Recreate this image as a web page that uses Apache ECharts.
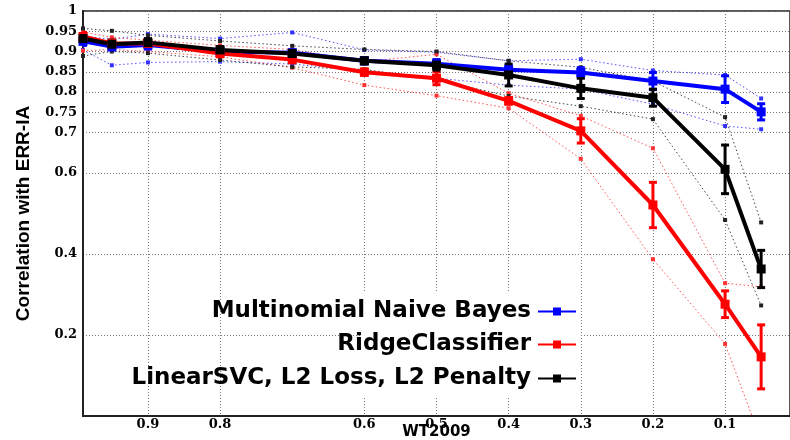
<!DOCTYPE html>
<html>
<head>
<meta charset="utf-8">
<script src="https://cdn.jsdelivr.net/npm/echarts@6/dist/echarts.min.js"></script>
<style>html,body{margin:0;padding:0;background:#fff}#c{width:790px;height:440px}</style>
</head>
<body>
<div id="c"></div>
<script>
// ---- data ----
const xValues = [0.99, 0.95, 0.9, 0.8, 0.7, 0.6, 0.5, 0.4, 0.3, 0.2, 0.1, 0.05];
const xTicks = [0.9, 0.8, 0.6, 0.5, 0.4, 0.3, 0.2, 0.1];
const yTicks = [0.2, 0.4, 0.6, 0.7, 0.75, 0.8, 0.85, 0.9, 0.95, 1];
const seriesNames = ['Multinomial Naive Bayes', 'RidgeClassifier', 'LinearSVC, L2 Loss, L2 Penalty'];

const nbMean  = [0.925, 0.912, 0.916, 0.900, 0.897, 0.877, 0.870, 0.855, 0.848, 0.827, 0.807, 0.751];
const nbErr   = [0.010, 0.008, 0.010, 0.006, 0.006, 0.006, 0.010, 0.010, 0.012, 0.021, 0.033, 0.020];
const nbUpper = [0.938, 0.930, 0.943, 0.932, 0.947, 0.904, 0.898, 0.877, 0.881, 0.853, 0.842, 0.784];
const nbLower = [0.904, 0.866, 0.873, 0.875, 0.869, 0.853, 0.834, 0.817, 0.807, 0.770, 0.716, 0.708];

const rcMean  = [0.937, 0.920, 0.920, 0.895, 0.880, 0.849, 0.834, 0.778, 0.704, 0.521, 0.276, 0.146];
const rcErr   = [0.010, 0.008, 0.008, 0.008, 0.008, 0.008, 0.016, 0.008, 0.030, 0.056, 0.033, 0.079];
const rcUpper = [0.948, 0.935, 0.928, 0.915, 0.905, 0.875, 0.893, 0.797, 0.741, 0.661, 0.328, 0.319];
const rcLower = [0.902, 0.905, 0.900, 0.887, 0.860, 0.817, 0.791, 0.760, 0.635, 0.387, 0.178, -0.06];

const svMean  = [0.932, 0.918, 0.922, 0.904, 0.895, 0.877, 0.866, 0.842, 0.809, 0.786, 0.609, 0.363];
const svErr   = [0.010, 0.010, 0.010, 0.008, 0.008, 0.008, 0.012, 0.027, 0.025, 0.021, 0.060, 0.046];
const svUpper = [0.957, 0.951, 0.940, 0.926, 0.914, 0.905, 0.900, 0.877, 0.861, 0.827, 0.738, 0.478];
const svLower = [0.889, 0.900, 0.896, 0.879, 0.862, 0.856, 0.830, 0.790, 0.765, 0.733, 0.484, 0.273];

// ---- build ----
const colors = ['#0000ff', '#ff0000', '#000000'];
const boundColors = ['#3333ff', '#ff3333', '#222222'];
const groups = [
  {mean: nbMean, err: nbErr, up: nbUpper, lo: nbLower},
  {mean: rcMean, err: rcErr, up: rcUpper, lo: rcLower},
  {mean: svMean, err: svErr, up: svUpper, lo: svLower}
];
const pairs = arr => xValues.map((x, i) => [x, arr[i]]);

function errRender(color) {
  return function (params, api) {
    const x = api.value(0);
    const p1 = api.coord([x, api.value(1)]);
    const p2 = api.coord([x, api.value(2)]);
    const w = 4;
    const st = {stroke: color, lineWidth: 3};
    return {type: 'group', children: [
      {type: 'line', shape: {x1: p1[0], y1: p1[1], x2: p2[0], y2: p2[1]}, style: st},
      {type: 'line', shape: {x1: p1[0] - w, y1: p1[1], x2: p1[0] + w, y2: p1[1]}, style: st},
      {type: 'line', shape: {x1: p2[0] - w, y1: p2[1], x2: p2[0] + w, y2: p2[1]}, style: st}
    ]};
  };
}

const series = [];
groups.forEach((g, k) => {
  ['up', 'lo'].forEach(b => {
    series.push({
      name: seriesNames[k] + ' ' + b, type: 'line', data: pairs(g[b]),
      symbol: 'rect', symbolSize: 4, z: 1, silent: true,
      lineStyle: {color: boundColors[k], width: 1, type: [1.5, 2.5], opacity: 0.85},
      itemStyle: {color: boundColors[k]}, clip: true
    });
  });
});
groups.forEach((g, k) => {
  series.push({
    name: seriesNames[k] + ' err', type: 'custom', z: 2, clip: true, silent: true,
    renderItem: errRender(colors[k]),
    data: xValues.map((x, i) => [x, g.mean[i] - g.err[i], g.mean[i] + g.err[i]])
  });
  series.push({
    name: seriesNames[k], type: 'line', data: pairs(g.mean), z: 3,
    symbol: 'rect', symbolSize: 9, clip: true,
    lineStyle: {color: colors[k], width: 4},
    itemStyle: {color: colors[k]}
  });
});

const legendTops = [300, 333, 367];
const legends = seriesNames.map((n, k) => ({
  data: [n], right: 213, top: legendTops[k], padding: 0, align: 'right',
  itemWidth: 38, itemHeight: 10, itemGap: 0, selectedMode: false,
  textStyle: {fontFamily: 'DejaVu Sans', fontWeight: 'bold', fontSize: 23, color: '#000', padding: [0, 2, 0, 0]}
}));

const tickFont = {fontFamily: 'DejaVu Serif', fontWeight: 'bold', fontSize: 13, color: '#000'};
const gridLine = {show: true, lineStyle: {color: '#777', width: 1, type: [1, 2]}};

const chart = echarts.init(document.getElementById('c'), null, {renderer: 'canvas'});
chart.setOption({
  animation: false,
  backgroundColor: '#fff',
  grid: {left: 83, right: 0, top: 11, bottom: 24, outerBoundsMode: 'none', containLabel: false,
         show: true, borderColor: '#222', borderWidth: 1.5, backgroundColor: 'transparent'},
  legend: legends,
  graphic: [{type: 'rect', shape: {x: 360, y: 293, width: 221, height: 103}, style: {fill: '#fff'}, z: 1, silent: true}],
  xAxis: {
    type: 'value', inverse: true, min: 0.01, max: 0.99,
    name: 'WT2009', nameLocation: 'middle', nameGap: 8, nameMoveOverlap: false,
    nameTextStyle: {fontFamily: 'DejaVu Sans', fontWeight: 'bold', fontSize: 15, color: '#000', verticalAlign: 'top', lineHeight: 16},
    axisLine: {show: true, lineStyle: {color: '#222', width: 2}},
    axisTick: {show: false, customValues: xTicks},
    axisLabel: {customValues: xTicks, margin: 2, ...tickFont},
    splitLine: gridLine
  },
  yAxis: {
    type: 'value', min: 0, max: 1,
    name: 'Correlation with ERR-IA', nameLocation: 'middle', nameGap: 50, nameMoveOverlap: false,
    nameTextStyle: {fontFamily: 'Liberation Sans', fontWeight: 'bold', fontSize: 19, color: '#000'},
    axisLine: {show: true, lineStyle: {color: '#222', width: 2}},
    axisTick: {show: false, customValues: yTicks},
    axisLabel: {customValues: yTicks, margin: 6, ...tickFont},
    splitLine: gridLine
  },
  series: series
});
</script>
</body>
</html>
